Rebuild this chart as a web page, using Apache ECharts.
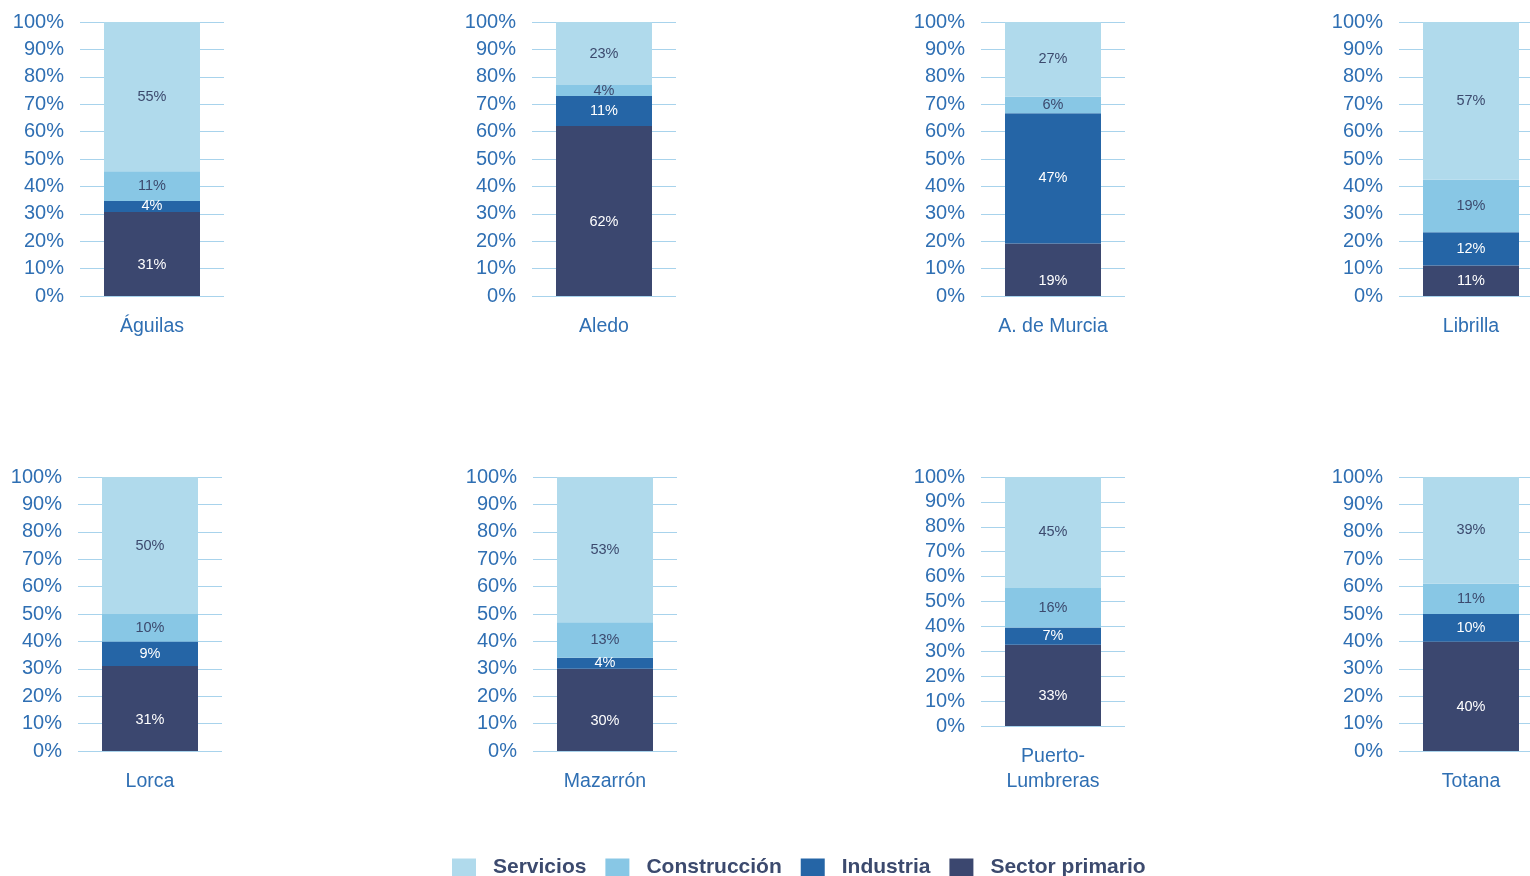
<!DOCTYPE html>
<html>
<head>
<meta charset="utf-8">
<script src="https://cdn.jsdelivr.net/npm/echarts@6/dist/echarts.min.js"></script>
<style>html,body{margin:0;padding:0;background:#fff;overflow:hidden;width:1530px;height:876px}#c{width:1548px;height:876px}</style>
</head>
<body>
<div id="c"></div>
<script>
const municipios = ['Águilas','Aledo','A. de Murcia','Librilla','Lorca','Mazarrón','Puerto-\nLumbreras','Totana'];
const seriesNames = ['Sector primario','Industria','Construcción','Servicios'];
const sectorPrimario = [31,62,19,11,31,30,33,40];
const industria      = [4,11,47,12,9,4,7,10];
const construccion   = [11,4,6,19,10,13,16,11];
const servicios      = [55,23,27,57,50,53,45,39];
const yTicks = [0,10,20,30,40,50,60,70,80,90,100];

const colors = ['#3B476F','#2565A6','#88C7E5','#B0DAEC'];
const labelColors = ['#ffffff','#ffffff','#3C4A6E','#3C4A6E'];
const values = [sectorPrimario, industria, construccion, servicios];

const font = 'Arial, "Liberation Sans", sans-serif';
const axisBlue = '#2F6FB3';
const lineBlue = '#A8D3EC';

const lefts = [80,532,981,1399, 78,533,981,1399];
const tops = [22,22,22,22, 477,477,477,477];
const heights = [274,274,274,274, 274,274,249,274];

const grids=[], xAxes=[], yAxes=[], series=[];
for (let i=0;i<municipios.length;i++){
  grids.push({left:lefts[i], top:tops[i], width:144, height:heights[i], containLabel:false});
  xAxes.push({type:'category', gridIndex:i, data:[municipios[i]],
    axisLine:{show:false}, axisTick:{show:false},
    axisLabel:{color:axisBlue, fontSize:19.5, fontFamily:font, margin:18, lineHeight:25, interval:0}});
  yAxes.push({type:'value', gridIndex:i, min:yTicks[0], max:yTicks[yTicks.length-1], interval:yTicks[1]-yTicks[0],
    axisLine:{show:false}, axisTick:{show:false},
    splitLine:{show:true, lineStyle:{color:lineBlue, width:1}},
    axisLabel:{color:axisBlue, fontSize:20, fontFamily:font, margin:16, formatter:'{value}%'}});
  const total = values.reduce((s,arr)=>s+arr[i],0);
  for (let k=0;k<4;k++){
    const raw = values[k][i];
    const share = raw/total*100;
    const segPx = share*heights[i]/100;
    const dy = (k===0 && segPx>40) ? 11 : 0;
    series.push({type:'bar', name:seriesNames[k], xAxisIndex:i, yAxisIndex:i, stack:'s'+i,
      barWidth:96, itemStyle:{color:colors[k]},
      label:{show:true, position:'inside', offset:[0,dy], color:labelColors[k], fontSize:14.5, fontFamily:font,
        formatter:p=>p.data.raw+'%'},
      data:[{value: share, raw: raw}]});
  }
}

const chart = echarts.init(document.getElementById('c'), null, {renderer:'canvas'});
chart.setOption({
  animation:false,
  color:colors,
  grid:grids, xAxis:xAxes, yAxis:yAxes, series:series,
  legend:{data:['Servicios','Construcción','Industria','Sector primario'],
    left:447, top:852, itemWidth:24, itemHeight:18, itemGap:19, icon:'rect',
    textStyle:{color:'#3C4A6E', fontSize:21, fontWeight:'bold', fontFamily:font, padding:[0,0,0,12]}}
});
</script>
</body>
</html>
